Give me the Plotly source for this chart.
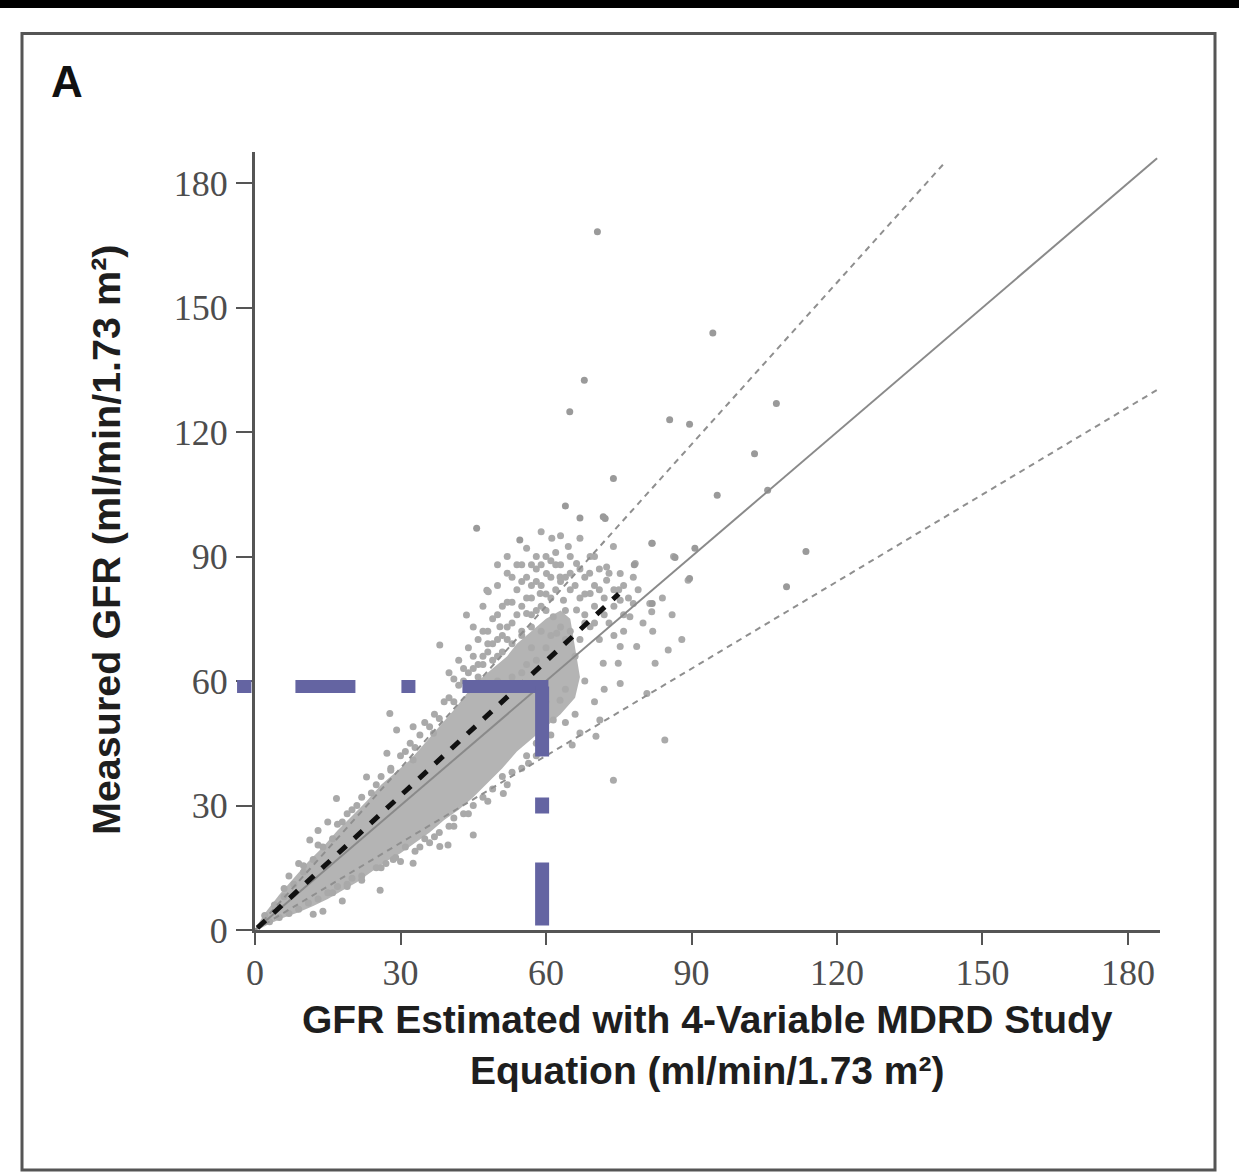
import plotly.graph_objects as go

# ---------------- data ----------------
x_ticks = [0, 30, 60, 90, 120, 150, 180]
y_ticks = [0, 30, 60, 90, 120, 150, 180]

# outline of the densely packed part of the point cloud (eGFR, mGFR)
cloud_outline = [
    (0.3, 0.8), (2, 4), (5, 8.5), (8, 12.5), (11, 16.5), (14, 20), (17, 24),
    (20, 27.5), (23, 31), (26, 35), (29, 38), (32, 41), (35, 45), (38, 49),
    (41, 53), (44, 57.5), (46, 60), (49, 63), (52, 66), (54, 69), (57, 72),
    (60, 75), (63, 77), (65, 75), (66, 68), (67, 61), (66, 56), (63, 52),
    (60, 49), (57, 46), (54, 43), (51, 39), (48, 35.5), (45, 32), (42, 29),
    (39, 26.5), (36, 23.5), (33, 21), (30, 18.5), (27, 16.5), (24, 14), (21, 11.5),
    (18, 9.5), (15, 7.5), (12, 5.8), (9, 4.3), (6, 3), (3, 1.5), (1, 0.3),
]

# individual points around the edges of the dense cloud
edge_points = [
    (2, 3.5), (3, 2), (4, 6), (5, 3), (6, 8), (7, 4), (8, 11), (9, 5), (10, 14),
    (11, 6.5), (11.3, 21.7), (12, 17), (13, 7.5), (14, 20), (15, 9), (16, 22),
    (16.8, 31.7), (17, 10.5), (18, 26), (19, 11), (20, 29), (20, 12.5), (21, 30),
    (22, 13), (14, 4.5), (18, 7), (12, 3.8), (9, 16), (7, 13), (13, 24), (15, 26),
    (23, 36.9), (24, 33), (25, 15), (25.8, 9.6), (26, 37), (27, 16), (27.2, 42.6),
    (28, 39), (28.5, 17), (29.2, 48.2), (27.8, 52.2), (30, 42), (30, 16.5),
    (31, 20), (32, 45), (32.6, 41), (32.6, 16.1), (32.6, 49), (33, 19), (34, 47),
    (35, 22), (35, 50), (36, 21), (36.8, 47.4), (37, 52), (38, 23.5), (38.1, 20.1),
    (39.8, 20.5), (38.1, 68.7), (39, 55), (40, 25), (40, 56), (41, 27), (42, 59),
    (43, 28), (43.6, 75.9), (44, 62), (45, 22.9), (45, 30), (46, 64), (47, 32),
    (47.8, 81.9), (48, 67), (49, 34), (50, 66), (51, 37), (51.2, 32.9), (52, 70),
    (53, 38), (55, 72), (56.4, 40.2), (56, 42), (57, 76), (58, 45),
    (16, 9), (19, 10.5), (22, 12), (26, 15), (29, 17.5), (34, 20), (37, 22.5),
    (41, 25), (44, 28), (48, 31), (52, 35), (55, 39), (58, 42), (61, 47), (64, 50),
    (6, 10), (10, 15.5), (13, 20.5), (17, 25.5), (19, 28), (22, 32), (25, 35),
    (28, 38.5), (31, 43), (33, 44), (36, 49), (38, 51), (41, 55),
]

# points of the looser cluster between 40 and 90 ml/min
cluster_points = [
    (48.1, 81.5), (50.5, 73.1), (53, 85), (55, 88), (56, 76.3), (58.8, 81.1),
    (60.1, 85.9), (61.2, 94.4), (61.5, 75.5), (62.2, 71.5), (62.9, 85.1),
    (63.6, 79.5), (64.6, 92.4), (66.3, 77.1), (66.3, 88.3), (67, 94.4),
    (69.1, 73.1), (69.1, 81.1), (69.1, 90), (72.5, 84.3), (72.5, 87.5),
    (73.9, 92.4), (75.3, 79.5), (75.3, 85.9), (77.3, 75.5), (78, 78.7),
    (78.4, 88.3), (81.4, 78.7), (81.8, 76.7), (81.8, 93.2), (86.3, 90),
    (89.3, 84.3), (58, 90), (57, 83), (59, 78), (65, 82), (70, 78), (68, 85),
    (60, 68), (64, 70), (71, 70), (73, 74), (66, 66), (58, 65), (55, 62),
    (60, 55), (62.9, 55.4), (61.5, 50.6), (65.4, 44.6), (67, 47.5), (70.3, 46.7),
    (71.1, 50.6), (73.9, 36.1), (84.5, 45.8), (71.8, 64.3), (74.9, 64.3),
    (75.3, 59.4), (75.3, 68.3), (78.7, 68.3), (80.8, 57), (82.5, 64.3),
    (85.2, 67.5), (68, 60), (64, 58), (72, 58), (70, 55), (66, 52),
    (40, 62), (42, 65), (43, 60), (44, 68), (45, 63), (46, 70), (47, 66),
    (48, 72), (49, 69), (50, 76), (51, 71), (52, 79), (53, 74), (54, 82),
    (55, 78), (56, 85), (57, 80), (58, 87), (59, 83), (60, 90), (61, 80),
    (62, 88), (63, 84), (64, 77), (65, 86), (67, 80), (68, 76), (70, 83),
    (71, 87), (74, 82), (76, 83), (78, 85), (45, 73), (47, 78), (50, 83),
    (52, 90), (56, 92), (59, 96), (62, 91), (44, 58), (48, 58), (50, 60),
    (53, 61), (56, 64), (57, 68), (59, 72), (61, 71), (63, 73), (65, 72),
    (67, 70), (68, 74), (70, 74), (72, 76), (74, 71), (76, 72),
    (41, 60.5), (43, 63), (45, 66), (46, 61), (47, 64), (48, 69), (49, 65),
    (50, 70), (51, 67), (52, 73), (53, 69), (54, 76), (55, 71), (55, 84),
    (56, 80), (57, 73), (57, 88), (58, 77), (58, 84), (59, 88), (60, 81),
    (60, 77), (61, 85), (61, 89), (62, 82), (63, 88), (63, 95), (64, 85),
    (65, 90), (66, 83), (67, 87), (68, 81), (69, 86), (70, 90), (71, 82),
    (72, 80), (73, 86), (74, 78), (75, 82), (76, 76), (77, 80), (79, 82),
    (80, 74), (82, 72), (84, 80), (86, 76), (88, 70), (54, 88), (53, 79),
    (51, 78), (49, 75), (47, 72), (50, 88), (52, 86),
]

# isolated outlying points
outlier_points = [
    (70.6, 168.3), (67.9, 132.5), (64.9, 124.9), (94.4, 143.9), (107.5, 126.9),
    (85.5, 123), (89.6, 121.9), (103, 114.8), (95.3, 104.8), (105.7, 106),
    (64, 102.2), (67, 99.3), (72.2, 99.2), (73.9, 108.8), (71.8, 99.6),
    (81.9, 93.2), (78.2, 88), (86.6, 89.8), (90.7, 92), (113.6, 91.2),
    (109.6, 82.7), (89.6, 84.7), (81.9, 78.7), (45.7, 96.8), (54.6, 94),
]

# reference lines
identity_x, identity_y = [0, 186], [0, 186]
upper30_x, upper30_y = [0, 142.5], [0, 185.3]
lower30_x, lower30_y = [0, 186.2], [0, 130.3]
fit_x, fit_y = [0.5, 75], [0.5, 81]
thresh_h_x, thresh_h_y = [60.5, -3.7], [58.7, 58.7]
thresh_v_x, thresh_v_y = [59.2, 59.2], [58.7, 0]

x_title = "GFR Estimated with 4-Variable MDRD Study<br>Equation (ml/min/1.73 m²)"
y_title = "Measured GFR (ml/min/1.73 m²)"
panel_label = "A"

# ---------------- figure ----------------
W, H = 1239, 1174


def px_x(p):
    return p / W


def px_y(p):
    return 1 - p / H


def xs(pts):
    return [p[0] for p in pts]


def ys(pts):
    return [p[1] for p in pts]


fig = go.Figure()

fig.add_trace(go.Scatter(
    x=xs(cloud_outline), y=ys(cloud_outline), mode="lines", fill="toself",
    fillcolor="#b4b4b4", line=dict(width=0), hoverinfo="skip", showlegend=False))

for pts, col in [(edge_points, "#a9a9a9"), (cluster_points, "#aaaaaa"),
                 (outlier_points, "#9a9a9a")]:
    fig.add_trace(go.Scatter(
        x=xs(pts), y=ys(pts), mode="markers",
        marker=dict(size=7, color=col, line=dict(width=0)), showlegend=False))

fig.add_trace(go.Scatter(x=identity_x, y=identity_y, mode="lines",
                         line=dict(color="#8a8a8a", width=2), showlegend=False))
for lx, ly in [(upper30_x, upper30_y), (lower30_x, lower30_y)]:
    fig.add_trace(go.Scatter(x=lx, y=ly, mode="lines",
                             line=dict(color="#8f8f8f", width=2, dash="6px,5px"),
                             showlegend=False))

fig.add_trace(go.Scatter(
    x=thresh_h_x, y=thresh_h_y, mode="lines", xaxis="x2",
    line=dict(color="#6464a2", width=13,
              dash="86px,47px,14px,46px,60px,44px,15px,50px"),
    showlegend=False))
fig.add_trace(go.Scatter(
    x=thresh_v_x, y=thresh_v_y, mode="lines", xaxis="x2",
    line=dict(color="#6464a2", width=14, dash="70px,41px,16px,49px,63px,20px"),
    showlegend=False))

fig.add_trace(go.Scatter(x=fit_x, y=fit_y, mode="lines",
                         line=dict(color="#111111", width=5, dash="11px,11px"),
                         showlegend=False))

x0_px, x1_px = 255, 1160
y0_px, y1_px = 930, 152
x_range = [0, 186.6]
y_range = [0, 187.5]
scale = (x1_px - x0_px) / (x_range[1] - x_range[0])
x2_left_px = 230

tick_font = dict(family="Liberation Serif", size=36, color="#4d4d4d")
fig.update_layout(
    width=W, height=H,
    margin=dict(l=0, r=0, t=0, b=0, pad=0, autoexpand=False),
    paper_bgcolor="white", plot_bgcolor="rgba(0,0,0,0)",
    xaxis=dict(domain=[px_x(x0_px), px_x(x1_px)], range=x_range, anchor="y",
               automargin=False,
               showline=True, linecolor="#555555", linewidth=3,
               ticks="outside", ticklen=12, tickwidth=2, tickcolor="#555555",
               tickvals=x_ticks, tickfont=tick_font, ticklabelstandoff=-3,
               showgrid=False, zeroline=False),
    xaxis2=dict(domain=[px_x(x2_left_px), px_x(x1_px)],
                range=[x_range[0] - (x0_px - x2_left_px) / scale, x_range[1]],
                anchor="y", visible=False, automargin=False,
                showgrid=False, zeroline=False),
    yaxis=dict(domain=[px_y(y0_px), px_y(y1_px)], range=y_range, anchor="x",
               automargin=False,
               showline=True, linecolor="#555555", linewidth=3,
               ticks="outside", ticklen=16, tickwidth=2, tickcolor="#555555",
               tickvals=y_ticks, tickfont=tick_font, ticklabelstandoff=1,
               showgrid=False, zeroline=False),
    shapes=[
        dict(type="rect", xref="paper", yref="paper", x0=0, x1=1,
             y0=px_y(8), y1=1, fillcolor="black", line=dict(width=0), layer="above"),
        dict(type="rect", xref="paper", yref="paper", x0=px_x(22), x1=px_x(1215),
             y0=px_y(1170), y1=px_y(33.5), line=dict(color="#555555", width=3),
             fillcolor="rgba(0,0,0,0)", layer="above"),
    ],
    annotations=[
        dict(text=panel_label, xref="paper", yref="paper", x=px_x(67), y=px_y(81),
             showarrow=False, xanchor="center", yanchor="middle",
             font=dict(family="Liberation Sans", size=44, color="#111111", weight="bold")),
        dict(text=x_title, xref="paper", yref="paper", x=px_x(707), y=px_y(996),
             showarrow=False, xanchor="center", yanchor="top", align="center",
             font=dict(family="Liberation Sans", size=39, color="#1e1e1e", weight="bold")),
        dict(text=y_title, xref="paper", yref="paper", x=px_x(106), y=px_y(540),
             showarrow=False, xanchor="center", yanchor="middle", textangle=-90,
             font=dict(family="Liberation Sans", size=39.5, color="#1e1e1e", weight="bold")),
    ],
)

fig.write_html("out.html")
